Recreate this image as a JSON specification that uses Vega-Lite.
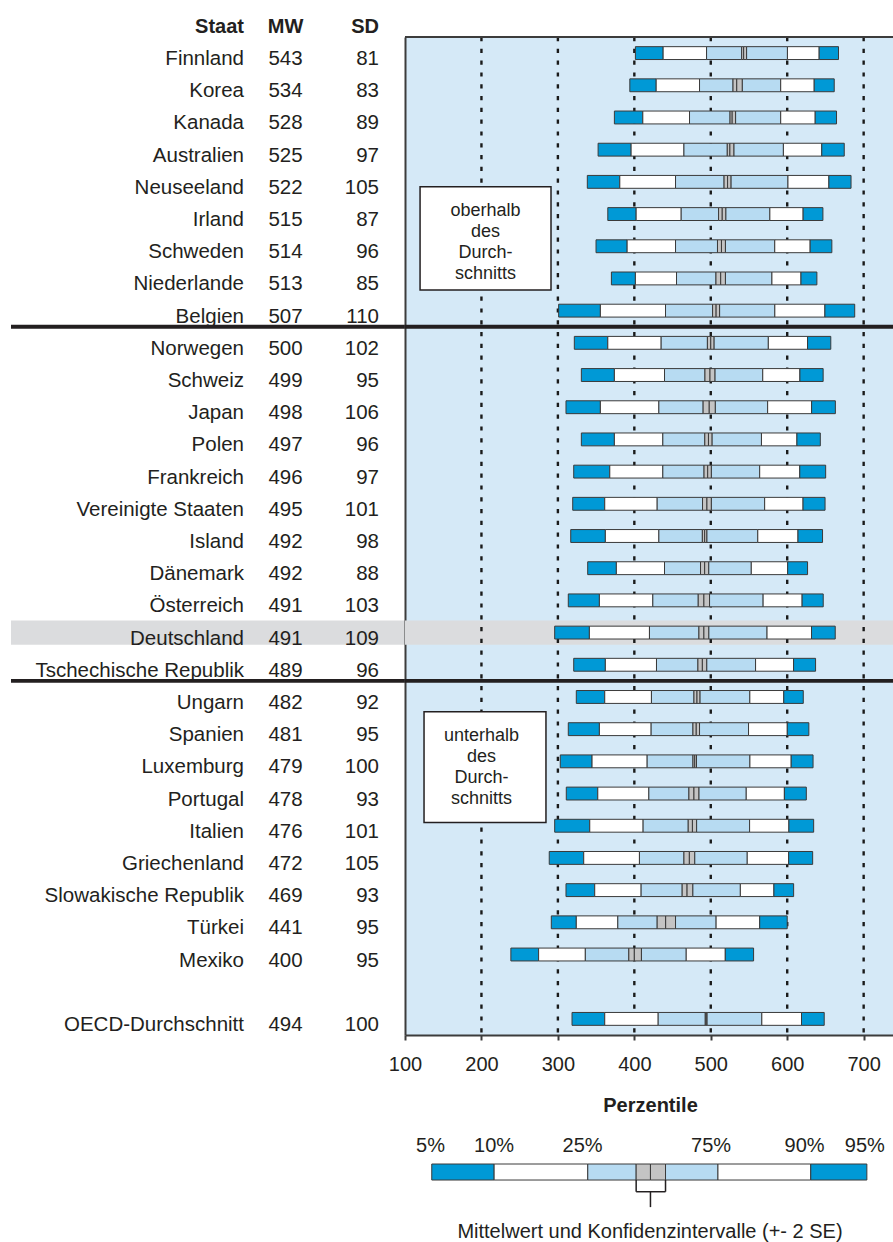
{
  "$schema": "https://vega.github.io/schema/vega-lite/v6.json",
  "padding": {"left": 9, "top": 16, "right": 0, "bottom": 0},
  "background": "white",
  "bounds": "flush",
  "spacing": 0,
  "datasets": {
    "rows": [
      {"c": "Finnland", "mw": 543, "sd": 81, "p5": 401.4, "p10": 437.7, "p25": 494.5, "lo": 540.4, "hi": 546.9, "p75": 600.3, "p90": 641.8, "p95": 667.1},
      {"c": "Korea", "mw": 534, "sd": 83, "p5": 394.1, "p10": 428.6, "p25": 485.3, "lo": 529.1, "hi": 541.3, "p75": 591.5, "p90": 635.3, "p95": 661.5},
      {"c": "Kanada", "mw": 528, "sd": 89, "p5": 373.9, "p10": 411.1, "p25": 472.2, "lo": 525.2, "hi": 532.5, "p75": 591.5, "p90": 636.6, "p95": 664.5},
      {"c": "Australien", "mw": 525, "sd": 97, "p5": 352.6, "p10": 395.8, "p25": 464.9, "lo": 521.6, "hi": 530.4, "p75": 595.0, "p90": 645.2, "p95": 674.6},
      {"c": "Neuseeland", "mw": 522, "sd": 105, "p5": 338.5, "p10": 381.0, "p25": 453.9, "lo": 517.4, "hi": 526.6, "p75": 601.0, "p90": 654.5, "p95": 683.5},
      {"c": "Irland", "mw": 515, "sd": 87, "p5": 365.3, "p10": 402.4, "p25": 461.3, "lo": 510.2, "hi": 519.8, "p75": 577.3, "p90": 620.8, "p95": 646.7},
      {"c": "Schweden", "mw": 514, "sd": 96, "p5": 349.9, "p10": 390.6, "p25": 453.9, "lo": 508.8, "hi": 519.2, "p75": 583.7, "p90": 630.0, "p95": 658.4},
      {"c": "Niederlande", "mw": 513, "sd": 85, "p5": 370.0, "p10": 401.4, "p25": 455.2, "lo": 506.8, "hi": 519.2, "p75": 580.0, "p90": 618.0, "p95": 638.8},
      {"c": "Belgien", "mw": 507, "sd": 110, "p5": 301.0, "p10": 355.6, "p25": 440.8, "lo": 502.4, "hi": 511.6, "p75": 583.8, "p90": 649.3, "p95": 688.3},
      {"c": "Norwegen", "mw": 500, "sd": 102, "p5": 321.5, "p10": 365.3, "p25": 435.1, "lo": 495.6, "hi": 504.4, "p75": 575.3, "p90": 626.6, "p95": 657.0},
      {"c": "Schweiz", "mw": 499, "sd": 95, "p5": 330.7, "p10": 373.9, "p25": 439.5, "lo": 492.4, "hi": 505.6, "p75": 568.0, "p90": 616.6, "p95": 647.0},
      {"c": "Japan", "mw": 498, "sd": 106, "p5": 310.6, "p10": 355.6, "p25": 432.1, "lo": 490.0, "hi": 506.0, "p75": 574.4, "p90": 631.9, "p95": 663.0},
      {"c": "Polen", "mw": 497, "sd": 96, "p5": 330.7, "p10": 373.9, "p25": 437.3, "lo": 492.2, "hi": 501.8, "p75": 566.3, "p90": 612.7, "p95": 643.3},
      {"c": "Frankreich", "mw": 496, "sd": 97, "p5": 320.7, "p10": 367.9, "p25": 437.3, "lo": 491.2, "hi": 500.8, "p75": 564.0, "p90": 616.4, "p95": 650.3},
      {"c": "Vereinigte Staaten", "mw": 495, "sd": 101, "p5": 319.4, "p10": 361.3, "p25": 429.9, "lo": 489.2, "hi": 500.8, "p75": 570.5, "p90": 620.7, "p95": 649.5},
      {"c": "Island", "mw": 492, "sd": 98, "p5": 316.8, "p10": 362.1, "p25": 432.1, "lo": 489.0, "hi": 495.0, "p75": 561.5, "p90": 614.1, "p95": 646.2},
      {"c": "Dänemark", "mw": 492, "sd": 88, "p5": 339.0, "p10": 376.5, "p25": 439.5, "lo": 486.6, "hi": 497.4, "p75": 553.0, "p90": 600.6, "p95": 626.6},
      {"c": "Österreich", "mw": 491, "sd": 103, "p5": 313.6, "p10": 354.3, "p25": 424.2, "lo": 483.6, "hi": 498.4, "p75": 568.5, "p90": 619.5, "p95": 647.1},
      {"c": "Deutschland", "mw": 491, "sd": 109, "p5": 295.8, "p10": 341.2, "p25": 419.8, "lo": 484.5, "hi": 497.5, "p75": 573.6, "p90": 631.8, "p95": 662.8},
      {"c": "Tschechische Republik", "mw": 489, "sd": 96, "p5": 320.7, "p10": 362.1, "p25": 429.0, "lo": 483.2, "hi": 494.8, "p75": 558.6, "p90": 608.3, "p95": 637.1},
      {"c": "Ungarn", "mw": 482, "sd": 92, "p5": 324.1, "p10": 361.3, "p25": 422.4, "lo": 478.0, "hi": 486.0, "p75": 551.1, "p90": 595.5, "p95": 621.0},
      {"c": "Spanien", "mw": 481, "sd": 95, "p5": 313.6, "p10": 354.3, "p25": 422.0, "lo": 476.7, "hi": 485.3, "p75": 549.4, "p90": 600.1, "p95": 628.3},
      {"c": "Luxemburg", "mw": 479, "sd": 100, "p5": 303.1, "p10": 344.7, "p25": 416.8, "lo": 476.7, "hi": 481.3, "p75": 551.2, "p90": 605.2, "p95": 633.8},
      {"c": "Portugal", "mw": 478, "sd": 93, "p5": 311.0, "p10": 352.2, "p25": 419.0, "lo": 471.4, "hi": 484.6, "p75": 546.4, "p90": 596.3, "p95": 625.0},
      {"c": "Italien", "mw": 476, "sd": 101, "p5": 295.8, "p10": 341.7, "p25": 411.5, "lo": 470.5, "hi": 481.5, "p75": 550.8, "p90": 602.2, "p95": 634.6},
      {"c": "Griechenland", "mw": 472, "sd": 105, "p5": 288.7, "p10": 333.8, "p25": 406.7, "lo": 464.9, "hi": 479.1, "p75": 547.7, "p90": 601.9, "p95": 633.3},
      {"c": "Slowakische Republik", "mw": 469, "sd": 93, "p5": 310.6, "p10": 348.2, "p25": 408.9, "lo": 462.6, "hi": 476.6, "p75": 538.7, "p90": 582.6, "p95": 608.4},
      {"c": "Türkei", "mw": 441, "sd": 95, "p5": 291.4, "p10": 324.1, "p25": 378.4, "lo": 429.9, "hi": 453.9, "p75": 507.0, "p90": 564.0, "p95": 600.0},
      {"c": "Mexiko", "mw": 400, "sd": 95, "p5": 238.5, "p10": 274.8, "p25": 335.9, "lo": 392.8, "hi": 409.3, "p75": 467.9, "p90": 519.0, "p95": 556.0},
      {"c": "OECD-Durchschnitt", "mw": 494, "sd": 100, "p5": 318.5, "p10": 361.3, "p25": 431.2, "lo": 492.8, "hi": 495.2, "p75": 566.8, "p90": 618.7, "p95": 648.4}
    ],
    "grid": [{"v": 200}, {"v": 300}, {"v": 400}, {"v": 500}, {"v": 600}, {"v": 700}],
    "legendbar": [
      {"lo": 135.0, "hi": 216.6, "kind": "a"},
      {"lo": 216.6, "hi": 339.1, "kind": "b"},
      {"lo": 339.1, "hi": 402.4, "kind": "c"},
      {"lo": 402.4, "hi": 421.1, "kind": "d"},
      {"lo": 421.1, "hi": 440.8, "kind": "d"},
      {"lo": 440.8, "hi": 509.4, "kind": "c"},
      {"lo": 509.4, "hi": 630.8, "kind": "b"},
      {"lo": 630.8, "hi": 704.2, "kind": "a"}
    ]
  },
  "config": {
    "font": "Liberation Sans",
    "view": {"stroke": null},
    "axis": {"labelFlush": false, "labelOverlap": false, "grid": false, "labelFont": "Liberation Sans", "titleFont": "Liberation Sans", "labelColor": "#231f20", "titleColor": "#231f20"},
    "title": {"font": "Liberation Sans", "color": "#231f20"},
    "text": {"font": "Liberation Sans", "fontSize": 20, "color": "#231f20"}
  },
  "hconcat": [
    {
      "width": 394,
      "height": 998,
      "data": {"name": "rows"},
      "layer": [
        {
          "transform": [{"filter": "datum.c === 'Deutschland'"}],
          "mark": {"type": "bar", "height": {"band": 0.75}, "color": "#dbdcde"},
          "encoding": {
            "y": {"field": "c", "type": "nominal", "scale": {"domain": ["Finnland","Korea","Kanada","Australien","Neuseeland","Irland","Schweden","Niederlande","Belgien","Norwegen","Schweiz","Japan","Polen","Frankreich","Vereinigte Staaten","Island","Dänemark","Österreich","Deutschland","Tschechische Republik","Ungarn","Spanien","Luxemburg","Portugal","Italien","Griechenland","Slowakische Republik","Türkei","Mexiko"," ","OECD-Durchschnitt"], "paddingInner": 0, "paddingOuter": 0}, "axis": null}
          }
        },
        {
          "transform": [{"filter": "datum.c === 'Norwegen' || datum.c === 'Ungarn'"}],
          "mark": {"type": "rule", "color": "#231f20", "strokeWidth": 3.8},
          "encoding": {
            "y": {"field": "c", "type": "nominal", "bandPosition": 0, "axis": null}
          }
        },
        {
          "mark": {"type": "text", "align": "right", "baseline": "alphabetic", "dy": 12, "fontSize": 20.5},
          "encoding": {
            "y": {"field": "c", "type": "nominal", "axis": null},
            "x": {"datum": "Staat", "type": "nominal", "bandPosition": 1,
              "scale": {"type": "band", "domain": ["Staat", "MW", "SD"], "range": [181, 368], "paddingInner": 0.2296, "paddingOuter": 0},
              "axis": {"orient": "top", "title": null, "domain": false, "ticks": false, "labelPadding": 5, "labelBaseline": "alphabetic", "labelFontSize": 20, "labelFontWeight": "bold", "labelAngle": 0,
                "labelAlign": {"condition": {"test": "datum.value === 'MW'", "value": "center"}, "value": "right"},
                "labelOffset": {"condition": {"test": "datum.value === 'MW'", "value": 0}, "value": 26}}},
            "text": {"field": "c", "type": "nominal"}
          }
        },
        {
          "mark": {"type": "text", "align": "center", "baseline": "alphabetic", "dy": 12, "fontSize": 20.5},
          "encoding": {
            "y": {"field": "c", "type": "nominal", "axis": null},
            "x": {"datum": "MW", "type": "nominal", "bandPosition": 0.5},
            "text": {"field": "mw", "type": "quantitative"}
          }
        },
        {
          "mark": {"type": "text", "align": "right", "baseline": "alphabetic", "dy": 12, "fontSize": 20.5},
          "encoding": {
            "y": {"field": "c", "type": "nominal", "axis": null},
            "x": {"datum": "SD", "type": "nominal", "bandPosition": 1},
            "text": {"field": "sd", "type": "quantitative"}
          }
        }
      ]
    },
    {
      "vconcat": [
        {
          "width": 490,
          "height": 998,
          "view": {"fill": "#d5e9f7", "stroke": null},
          "layer": [
            {
              "data": {"name": "rows"},
              "transform": [{"filter": "datum.c === 'Deutschland'"}],
              "mark": {"type": "bar", "height": {"band": 0.75}, "color": "#dbdcde"},
              "encoding": {
                "y": {"field": "c", "type": "nominal", "scale": {"domain": ["Finnland","Korea","Kanada","Australien","Neuseeland","Irland","Schweden","Niederlande","Belgien","Norwegen","Schweiz","Japan","Polen","Frankreich","Vereinigte Staaten","Island","Dänemark","Österreich","Deutschland","Tschechische Republik","Ungarn","Spanien","Luxemburg","Portugal","Italien","Griechenland","Slowakische Republik","Türkei","Mexiko"," ","OECD-Durchschnitt"], "paddingInner": 0, "paddingOuter": 0},
                  "axis": {"labels": false, "ticks": false, "title": null, "domainColor": "#3c3c3c", "domainWidth": 2, "grid": false}}
              }
            },
            {
              "data": {"name": "grid"},
              "mark": {"type": "rule", "color": "#1a1a1a", "strokeWidth": 2.4, "strokeDash": [4.2, 7.6]},
              "encoding": {
                "x": {"field": "v", "type": "quantitative", "scale": {"domain": [100, 741], "nice": false, "zero": false},
                  "axis": {"orient": "bottom", "values": [100, 200, 300, 400, 500, 600, 700], "format": "d", "title": "Perzentile", "titleFontSize": 20, "titleFontWeight": "bold", "titlePadding": 21, "labelFontSize": 20, "labelPadding": 14, "tickSize": 5, "tickWidth": 2, "tickColor": "#3c3c3c", "domainColor": "#3c3c3c", "domainWidth": 2, "grid": false}}
              }
            },
            {
              "data": {"values": [{}]},
              "mark": {"type": "rect", "fill": "white", "stroke": "#231f20", "strokeWidth": 1.5},
              "encoding": {
                "x": {"datum": 119.7, "type": "quantitative"},
                "x2": {"datum": 291},
                "y": {"datum": "Neuseeland", "type": "nominal", "bandPosition": 0.65, "axis": {"labels": false, "ticks": false, "title": null, "domainColor": "#3c3c3c", "domainWidth": 2, "grid": false}},
                "y2": {"datum": "Niederlande", "bandPosition": 0.86}
              }
            },
            {
              "data": {"values": [{}]},
              "mark": {"type": "text", "text": ["oberhalb", "des", "Durch-", "schnitts"], "fontSize": 18, "lineHeight": 21, "align": "center", "baseline": "middle"},
              "encoding": {
                "x": {"datum": 205.4, "type": "quantitative"},
                "y": {"datum": "Irland", "type": "nominal", "bandPosition": 0.41, "axis": {"labels": false, "ticks": false, "title": null, "domainColor": "#3c3c3c", "domainWidth": 2, "grid": false}}
              }
            },
            {
              "data": {"values": [{}]},
              "mark": {"type": "rect", "fill": "white", "stroke": "#231f20", "strokeWidth": 1.5},
              "encoding": {
                "x": {"datum": 124.9, "type": "quantitative"},
                "x2": {"datum": 284.4},
                "y": {"datum": "Ungarn", "type": "nominal", "bandPosition": 0.96, "axis": {"labels": false, "ticks": false, "title": null, "domainColor": "#3c3c3c", "domainWidth": 2, "grid": false}},
                "y2": {"datum": "Italien", "bandPosition": 0.4}
              }
            },
            {
              "data": {"values": [{}]},
              "mark": {"type": "text", "text": ["unterhalb", "des", "Durch-", "schnitts"], "fontSize": 18, "lineHeight": 21, "align": "center", "baseline": "middle"},
              "encoding": {
                "x": {"datum": 200, "type": "quantitative"},
                "y": {"datum": "Spanien", "type": "nominal", "bandPosition": 0.72, "axis": {"labels": false, "ticks": false, "title": null, "domainColor": "#3c3c3c", "domainWidth": 2, "grid": false}}
              }
            },
            {
              "data": {"name": "rows"},
              "encoding": {
                "y": {"field": "c", "type": "nominal", "axis": {"labels": false, "ticks": false, "title": null, "domainColor": "#3c3c3c", "domainWidth": 2, "grid": false}}
              },
              "layer": [
                {"mark": {"type": "bar", "height": {"band": 0.4}, "fill": "#0099d6", "stroke": "#3a3a3a", "strokeWidth": 1},
                 "encoding": {"x": {"field": "p5", "type": "quantitative"}, "x2": {"field": "p10"}}},
                {"mark": {"type": "bar", "height": {"band": 0.4}, "fill": "#ffffff", "stroke": "#3a3a3a", "strokeWidth": 1},
                 "encoding": {"x": {"field": "p10", "type": "quantitative"}, "x2": {"field": "p25"}}},
                {"mark": {"type": "bar", "height": {"band": 0.4}, "fill": "#b7dbf2", "stroke": "#3a3a3a", "strokeWidth": 1},
                 "encoding": {"x": {"field": "p25", "type": "quantitative"}, "x2": {"field": "lo"}}},
                {"mark": {"type": "bar", "height": {"band": 0.4}, "fill": "#c4c4c4", "stroke": "#3a3a3a", "strokeWidth": 1},
                 "encoding": {"x": {"field": "lo", "type": "quantitative"}, "x2": {"field": "mw"}}},
                {"mark": {"type": "bar", "height": {"band": 0.4}, "fill": "#c4c4c4", "stroke": "#3a3a3a", "strokeWidth": 1},
                 "encoding": {"x": {"field": "mw", "type": "quantitative"}, "x2": {"field": "hi"}}},
                {"mark": {"type": "bar", "height": {"band": 0.4}, "fill": "#b7dbf2", "stroke": "#3a3a3a", "strokeWidth": 1},
                 "encoding": {"x": {"field": "hi", "type": "quantitative"}, "x2": {"field": "p75"}}},
                {"mark": {"type": "bar", "height": {"band": 0.4}, "fill": "#ffffff", "stroke": "#3a3a3a", "strokeWidth": 1},
                 "encoding": {"x": {"field": "p75", "type": "quantitative"}, "x2": {"field": "p90"}}},
                {"mark": {"type": "bar", "height": {"band": 0.4}, "fill": "#0099d6", "stroke": "#3a3a3a", "strokeWidth": 1},
                 "encoding": {"x": {"field": "p90", "type": "quantitative"}, "x2": {"field": "p95"}}}
              ]
            },
            {
              "data": {"name": "rows"},
              "transform": [{"filter": "datum.c === 'Norwegen' || datum.c === 'Ungarn'"}],
              "mark": {"type": "rule", "color": "#231f20", "strokeWidth": 3.8},
              "encoding": {
                "y": {"field": "c", "type": "nominal", "bandPosition": 0, "axis": {"labels": false, "ticks": false, "title": null, "domainColor": "#3c3c3c", "domainWidth": 2, "grid": false}}
              }
            },
            {
              "data": {"name": "rows"},
              "transform": [{"filter": "datum.c === 'Finnland'"}],
              "mark": {"type": "rule", "color": "#3c3c3c", "strokeWidth": 2},
              "encoding": {
                "y": {"field": "c", "type": "nominal", "bandPosition": 0, "axis": {"labels": false, "ticks": false, "title": null, "domainColor": "#3c3c3c", "domainWidth": 2, "grid": false}}
              }
            }
          ]
        },
        {
          "width": 490,
          "height": 44,
          "title": {"text": "Mittelwert und Konfidenzintervalle (+- 2 SE)", "orient": "bottom", "anchor": "middle", "fontSize": 20, "fontWeight": "normal", "offset": 14, "color": "#231f20"},
          "layer": [
            {
              "data": {"name": "legendbar"},
              "mark": {"type": "bar", "stroke": "#3a3a3a", "strokeWidth": 1},
              "encoding": {
                "x": {"field": "lo", "type": "quantitative", "scale": {"domain": [100, 741], "nice": false, "zero": false},
                  "axis": {"orient": "top", "values": [132.8, 215.9, 331.6, 499.7, 622.1, 700.8], "labelExpr": "datum.value < 150 ? '5%' : datum.value < 250 ? '10%' : datum.value < 400 ? '25%' : datum.value < 550 ? '75%' : datum.value < 650 ? '90%' : '95%'", "title": null, "domain": false, "ticks": false, "labelPadding": 9, "labelFontSize": 20, "grid": false}},
                "x2": {"field": "hi"},
                "y": {"datum": 0, "type": "quantitative", "scale": {"domain": [0, 1], "reverse": true}, "axis": null},
                "y2": {"datum": 0.364},
                "color": {"field": "kind", "type": "nominal", "scale": {"domain": ["a", "b", "c", "d"], "range": ["#0099d6", "#ffffff", "#b7dbf2", "#c4c4c4"]}, "legend": null}
              }
            },
            {
              "data": {"values": [{}]},
              "mark": {"type": "rule", "color": "#231f20", "strokeWidth": 1.5},
              "encoding": {"x": {"datum": 402.4, "type": "quantitative"}, "y": {"datum": 0.364, "type": "quantitative", "axis": null}, "y2": {"datum": 0.63}}
            },
            {
              "data": {"values": [{}]},
              "mark": {"type": "rule", "color": "#231f20", "strokeWidth": 1.5},
              "encoding": {"x": {"datum": 440.8, "type": "quantitative"}, "y": {"datum": 0.364, "type": "quantitative", "axis": null}, "y2": {"datum": 0.63}}
            },
            {
              "data": {"values": [{}]},
              "mark": {"type": "rule", "color": "#231f20", "strokeWidth": 1.5},
              "encoding": {"x": {"datum": 402.4, "type": "quantitative"}, "x2": {"datum": 440.8}, "y": {"datum": 0.63, "type": "quantitative", "axis": null}}
            },
            {
              "data": {"values": [{}]},
              "mark": {"type": "rule", "color": "#231f20", "strokeWidth": 1.5},
              "encoding": {"x": {"datum": 421.1, "type": "quantitative"}, "y": {"datum": 0.63, "type": "quantitative", "axis": null}, "y2": {"datum": 0.98}}
            }
          ]
        }
      ],
      "spacing": 129,
      "bounds": "flush"
    }
  ]
}
